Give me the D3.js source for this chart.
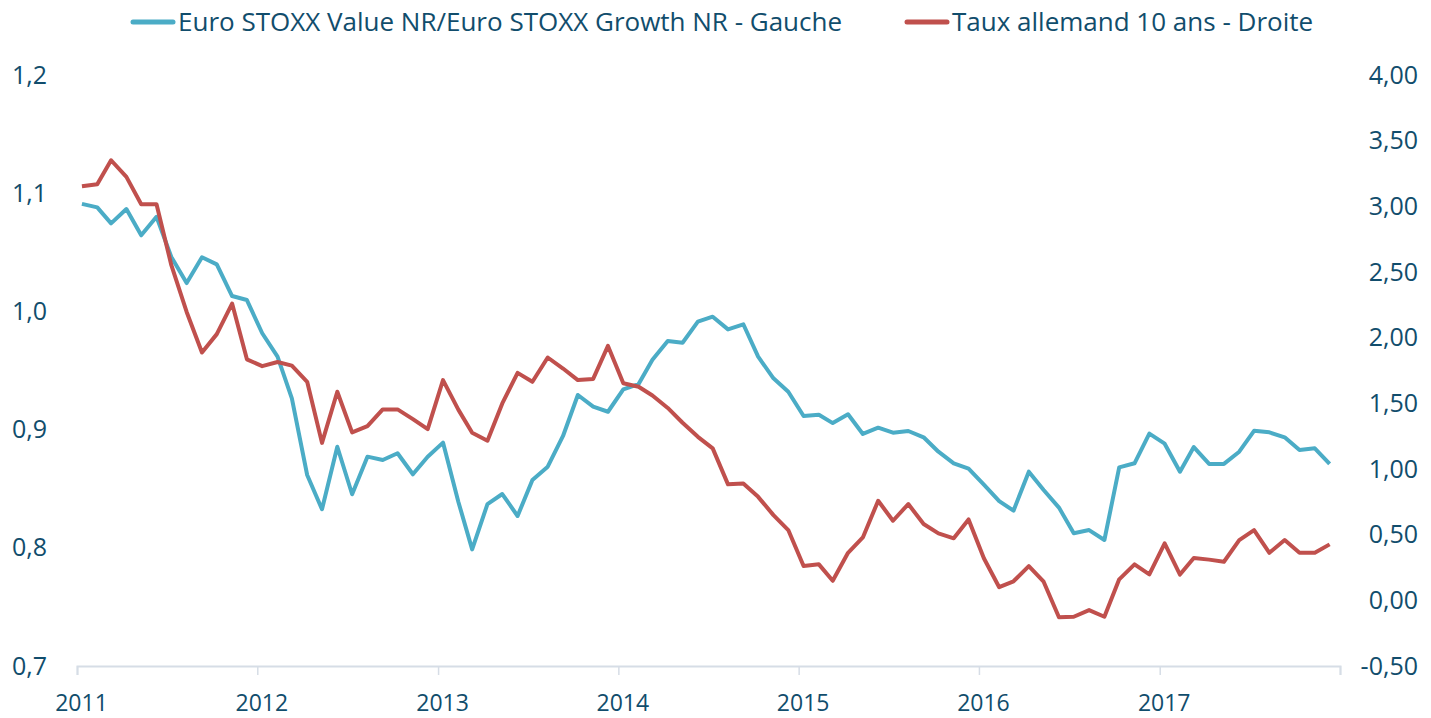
<!DOCTYPE html>
<html>
<head>
<meta charset="utf-8">
<script src="https://cdn.jsdelivr.net/npm/d3@7"></script>
<style>
  body { margin: 0; background: #fff; }
  text { font-family: "Open Sans", "Noto Sans", sans-serif; fill: #114d6c; }
</style>
</head>
<body>
<div id="chart"></div>
<script>
// monthly values, Jan 2011 .. Dec 2017
var years = [2011, 2012, 2013, 2014, 2015, 2016, 2017];

var ratioValues = [
  1.091, 1.088, 1.0745, 1.0866, 1.0644, 1.080, 1.046, 1.024, 1.0458, 1.0398, 1.013, 1.0096,
  0.9815, 0.9617, 0.9265, 0.8616, 0.8326, 0.8855, 0.8453, 0.8771, 0.8743, 0.880, 0.8622, 0.8771,
  0.889, 0.839, 0.7987, 0.837, 0.8455, 0.8269, 0.8574, 0.8686, 0.8946, 0.9293, 0.9194, 0.9151,
  0.934, 0.9385, 0.959, 0.975, 0.9735, 0.9913, 0.9955, 0.9848, 0.9891, 0.9617, 0.9434, 0.932,
  0.9115, 0.9125, 0.9055, 0.913, 0.8963, 0.9016, 0.8974, 0.8988, 0.8935, 0.8813, 0.8715, 0.867,
  0.8535, 0.8395, 0.8314, 0.8644, 0.8489, 0.834, 0.8123, 0.815, 0.8066, 0.868, 0.8715, 0.8966,
  0.8881, 0.8644, 0.8852, 0.871, 0.871, 0.8813, 0.899, 0.8977, 0.8935, 0.8827, 0.8842, 0.8709
];

var bundValues = [
  3.153, 3.168, 3.351, 3.224, 3.016, 3.016, 2.552, 2.196, 1.887, 2.027, 2.260, 1.835,
  1.783, 1.815, 1.787, 1.664, 1.199, 1.588, 1.279, 1.326, 1.454, 1.454, 1.380, 1.303,
  1.677, 1.452, 1.276, 1.215, 1.499, 1.732, 1.664, 1.849, 1.765, 1.677, 1.686, 1.937,
  1.653, 1.626, 1.560, 1.465, 1.352, 1.245, 1.157, 0.883, 0.890, 0.788, 0.649, 0.535,
  0.261, 0.274, 0.149, 0.362, 0.479, 0.758, 0.606, 0.733, 0.581, 0.510, 0.472, 0.616,
  0.320, 0.100, 0.145, 0.261, 0.142, -0.129, -0.125, -0.074, -0.125, 0.160, 0.274, 0.198,
  0.434, 0.196, 0.322, 0.310, 0.294, 0.459, 0.535, 0.362, 0.459, 0.362, 0.362, 0.426
];

var leftTicks = [0.7, 0.8, 0.9, 1.0, 1.1, 1.2];
var rightTicks = [-0.5, 0, 0.5, 1, 1.5, 2, 2.5, 3, 3.5, 4];

var seriesNames = ["Euro STOXX Value NR/Euro STOXX Growth NR - Gauche", "Taux allemand 10 ans - Droite"];
var seriesColors = ["#4bacc6", "#c0504d"];

var width = 1431, height = 718;
var margin = {top: 75, right: 91, bottom: 52, left: 77};

var svg = d3.select("#chart").append("svg")
    .attr("width", width)
    .attr("height", height);

var dates = ratioValues.map(function(d, i) { return new Date(2011, i, 11); });

var x = d3.scaleTime()
    .domain([new Date(2011, 0, 1), new Date(2018, 0, 1)])
    .range([margin.left, width - margin.right]);

var yL = d3.scaleLinear().domain([0.7, 1.2]).range([height - margin.bottom, margin.top]);
var yR = d3.scaleLinear().domain([-0.5, 4]).range([height - margin.bottom, margin.top]);

var fmt1 = function(d) { return d3.format(".1f")(d).replace(".", ","); };
var fmt2 = function(d) { return d3.format(".2f")(d).replace(".", ",").replace("−", "-"); };

// bottom axis
var xAxis = d3.axisBottom(x)
    .tickValues(years.map(function(y) { return new Date(y, 0, 1); }).concat([new Date(2018, 0, 1)]))
    .tickSize(9)
    .tickFormat(function(d) { return d.getFullYear() < 2018 ? d.getFullYear() : ""; });

var gx = svg.append("g")
    .attr("transform", "translate(0," + (height - margin.bottom) + ")")
    .call(xAxis);
gx.select(".domain").attr("stroke", "#d6dde6").attr("stroke-width", 2);
gx.selectAll(".tick line").attr("stroke", "#d6dde6").attr("stroke-width", 1.5);
gx.selectAll(".tick text")
    .attr("font-size", 23)
    .attr("font-family", null)
    .attr("fill", null)
    .attr("dy", 0)
    .attr("y", 45)
    .attr("dx", 4);

// left axis
var gl = svg.append("g")
    .attr("transform", "translate(47,0)")
    .call(d3.axisLeft(yL).tickValues(leftTicks).tickSize(0).tickFormat(fmt1));
gl.select(".domain").remove();
gl.selectAll(".tick text").attr("font-size", 25).attr("font-family", null).attr("fill", null).attr("x", 0);

// right axis
var gr = svg.append("g")
    .attr("transform", "translate(1418,0)")
    .call(d3.axisLeft(yR).tickValues(rightTicks).tickSize(0).tickFormat(fmt2));
gr.select(".domain").remove();
gr.selectAll(".tick text").attr("font-size", 25).attr("font-family", null).attr("fill", null).attr("x", 0);

// lines
var lineL = d3.line()
    .x(function(d, i) { return x(dates[i]); })
    .y(function(d) { return yL(d); });
var lineR = d3.line()
    .x(function(d, i) { return x(dates[i]); })
    .y(function(d) { return yR(d); });

svg.append("path")
    .datum(ratioValues)
    .attr("fill", "none")
    .attr("stroke", seriesColors[0])
    .attr("stroke-width", 4)
    .attr("stroke-linejoin", "round")
    .attr("d", lineL);

svg.append("path")
    .datum(bundValues)
    .attr("fill", "none")
    .attr("stroke", seriesColors[1])
    .attr("stroke-width", 4)
    .attr("stroke-linejoin", "round")
    .attr("d", lineR);

// legend
var legendX = [133, 907];
var legend = svg.selectAll(".legend")
    .data(seriesNames)
  .enter().append("g")
    .attr("class", "legend")
    .attr("transform", function(d, i) { return "translate(" + legendX[i] + ",22)"; });

legend.append("line")
    .attr("x1", 0).attr("x2", 40)
    .attr("stroke", function(d, i) { return seriesColors[i]; })
    .attr("stroke-width", 5)
    .attr("stroke-linecap", "round");

legend.append("text")
    .attr("x", 45)
    .attr("dy", "0.35em")
    .attr("font-size", 26)
    .text(function(d) { return d; });
</script>
</body>
</html>
